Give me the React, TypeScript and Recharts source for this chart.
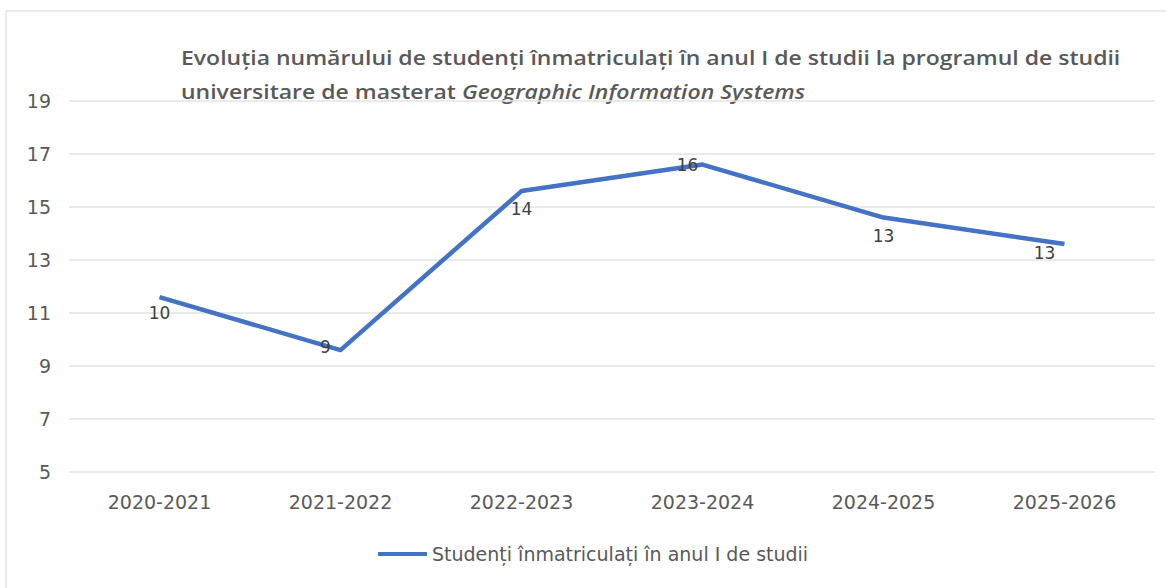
import React from "react";
import { LineChart, Line, XAxis, YAxis, CartesianGrid, LabelList } from "recharts";

const years = ["2020-2021", "2021-2022", "2022-2023", "2023-2024", "2024-2025", "2025-2026"];
const enrolled = [11.6, 9.6, 15.6, 16.6, 14.6, 13.6];
const pointLabels = ["10", "9", "14", "16", "13", "13"];
const yTicks = [5, 7, 9, 11, 13, 15, 17, 19];

const seriesName = "Studenți înmatriculați în anul I de studii";
const blue = "#4472C4";
const grey = "#595959";
const titleFont = "'Open Sans', sans-serif";
const font = "'DejaVu Sans', sans-serif";

// where each data label sits relative to its point (Excel placed them by hand)
const labelShift = [
	[0, 16],
	[-15, -3],
	[0, 18],
	[-15, 0],
	[0, 18],
	[-20, 9],
];

const data = years.map((year, i) => ({ year, value: enrolled[i], label: pointLabels[i] }));

const PointLabel = (props: any) => {
	const { x, y, index } = props;
	const [dx, dy] = labelShift[index];
	return (
		<text
			x={x + dx}
			y={y + dy}
			dy="0.35em"
			textAnchor="middle"
			fontSize={17}
			fill="#404040"
			fontFamily={font}
		>
			{pointLabels[index]}
		</text>
	);
};

export default function App() {
	return (
		<div
			style={{
				position: "absolute",
				left: 0,
				top: 0,
				width: 1166,
				height: 588,
				overflow: "hidden",
				background: "#fff",
				fontFamily: font,
			}}
		>
			<div
				style={{
					position: "absolute",
					left: 5,
					top: 10,
					width: 1200,
					height: 620,
					border: "2px solid #ebebeb",
				}}
			/>
			<div
				style={{
					position: "absolute",
					left: 181,
					top: 41,
					fontSize: 19,
					fontFamily: titleFont,
					fontWeight: 600,
					lineHeight: "34px",
					color: grey,
					whiteSpace: "nowrap",
					transform: "scaleX(1.21)",
					transformOrigin: "left top",
				}}
			>
				<div>Evoluția numărului de studenți înmatriculați în anul I de studii la programul de studii</div>
				<div>
					universitare de masterat <i>Geographic Information Systems</i>
				</div>
			</div>
			<LineChart
				width={1166}
				height={588}
				data={data}
				margin={{ top: 101, right: 11, bottom: 86, left: 0 }}
				style={{ position: "absolute", left: 0, top: 0 }}
			>
				<CartesianGrid vertical={false} stroke="#e3e3e3" strokeWidth={1.5} />
				<XAxis
					dataKey="year"
					axisLine={false}
					tickLine={false}
					height={30}
					tickMargin={18}
					padding={{ left: 90.5, right: 90.5 }}
					tick={{ fill: grey, fontSize: 19, fontFamily: font }}
				/>
				<YAxis
					domain={[5, 19]}
					ticks={yTicks}
					width={69}
					axisLine={false}
					tickLine={false}
					tickMargin={12}
					tick={{ fill: grey, fontSize: 19, fontFamily: font }}
				/>
				<Line
					type="linear"
					dataKey="value"
					stroke={blue}
					strokeWidth={4.5}
					strokeLinejoin="round"
					dot={false}
					isAnimationActive={false}
				>
					<LabelList dataKey="label" content={PointLabel} />
				</Line>
			</LineChart>
			<div
				style={{
					position: "absolute",
					left: 378,
					top: 543,
					display: "flex",
					alignItems: "center",
					fontSize: 19,
					color: grey,
					whiteSpace: "nowrap",
				}}
			>
				<span style={{ display: "inline-block", width: 49, height: 4, background: blue, marginRight: 5 }} />
				{seriesName}
			</div>
		</div>
	);
}
